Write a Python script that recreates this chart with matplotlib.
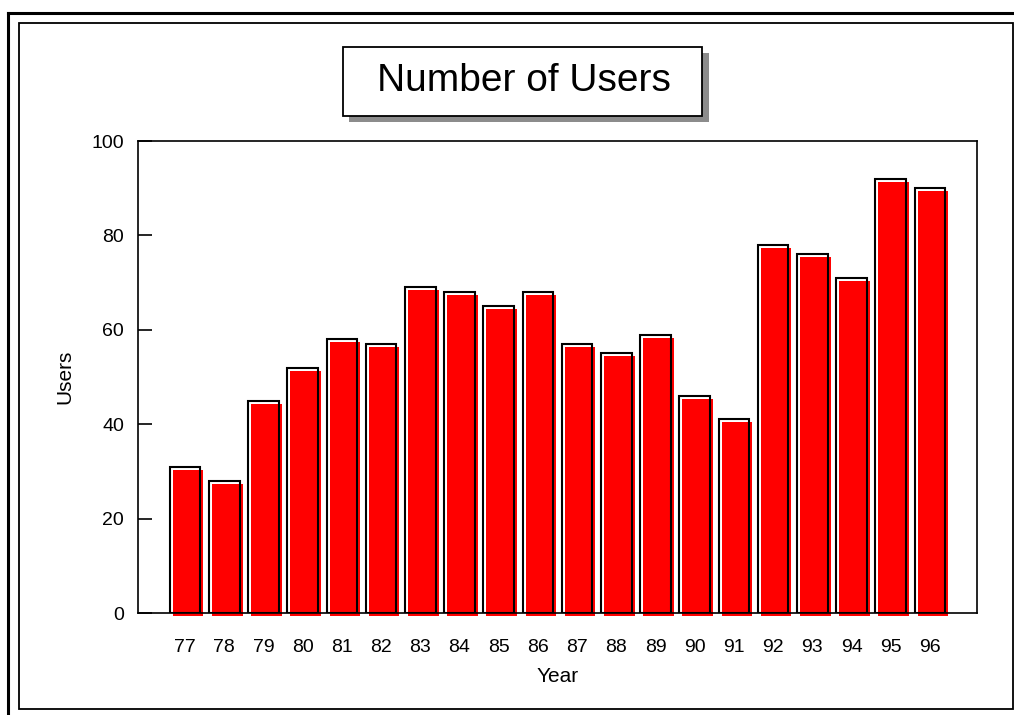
import numpy as np
import matplotlib
matplotlib.use("Agg")
import matplotlib.pyplot as plt
import matplotlib.transforms as mtransforms
from matplotlib.patches import Rectangle
from matplotlib.lines import Line2D

plt.rcParams['font.family'] = ['Liberation Sans', 'DejaVu Sans']

years = ['77', '78', '79', '80', '81', '82', '83', '84', '85', '86',
         '87', '88', '89', '90', '91', '92', '93', '94', '95', '96']
users = [31, 28, 45, 52, 58, 57, 69, 68, 65, 68,
         57, 55, 59, 46, 41, 78, 76, 71, 92, 90]

fig = plt.figure(figsize=(10.14, 7.15), dpi=100)
W, H = 1014.0, 715.0

def fx(px):
    return px / W

def fy(py):
    return 1 - py / H

# page frames
fig.add_artist(Line2D([fx(8), fx(8)], [fy(13), 0], color='black', lw=2.2))
fig.add_artist(Line2D([fx(8), 1], [fy(13), fy(13)], color='black', lw=2.2))
fig.add_artist(Rectangle((fx(19), fy(709)), fx(1013) - fx(19), fy(23) - fy(709),
                         fill=False, edgecolor='black', lw=1.3))

# title box with shadow
fig.add_artist(Rectangle((fx(349), fy(122)), fx(709) - fx(349), fy(53) - fy(122),
                         facecolor='#8c8c8c', edgecolor='none'))
fig.add_artist(Rectangle((fx(343), fy(116)), fx(702) - fx(343), fy(47) - fy(116),
                         facecolor='white', edgecolor='black', lw=1.3))
fig.text(fx(524), fy(81), 'Number of Users', fontsize=28,
         ha='center', va='center')

ax = fig.add_axes([fx(138), fy(613), fx(977) - fx(138), fy(141) - fy(613)])
x = np.arange(len(years))

shift = mtransforms.offset_copy(ax.transData, fig=fig, x=3, y=-3, units='dots')
ax.bar(x, users, width=0.78, color='#ff0000', edgecolor='none',
       transform=shift, clip_on=False, zorder=2)
ax.bar(x, users, width=0.78, fill=False, edgecolor='black', lw=1.5, zorder=3)

ax.set_xlim(-1.2, len(years) - 1 + 1.2)
ax.set_ylim(0, 100)
ax.set_yticks([0, 20, 40, 60, 80, 100])
ax.set_xticks(x)
ax.set_xticklabels(years)
ax.tick_params(axis='y', direction='in', length=10, width=1.2, pad=10, labelsize=14)
ax.tick_params(axis='x', length=0, pad=18.5, labelsize=14)
for s in ax.spines.values():
    s.set_linewidth(1.2)

ax.set_xlabel('Year', fontsize=15, labelpad=8)
ax.set_ylabel('Users', fontsize=15, labelpad=12)

fig.savefig('out.png', dpi=100)
